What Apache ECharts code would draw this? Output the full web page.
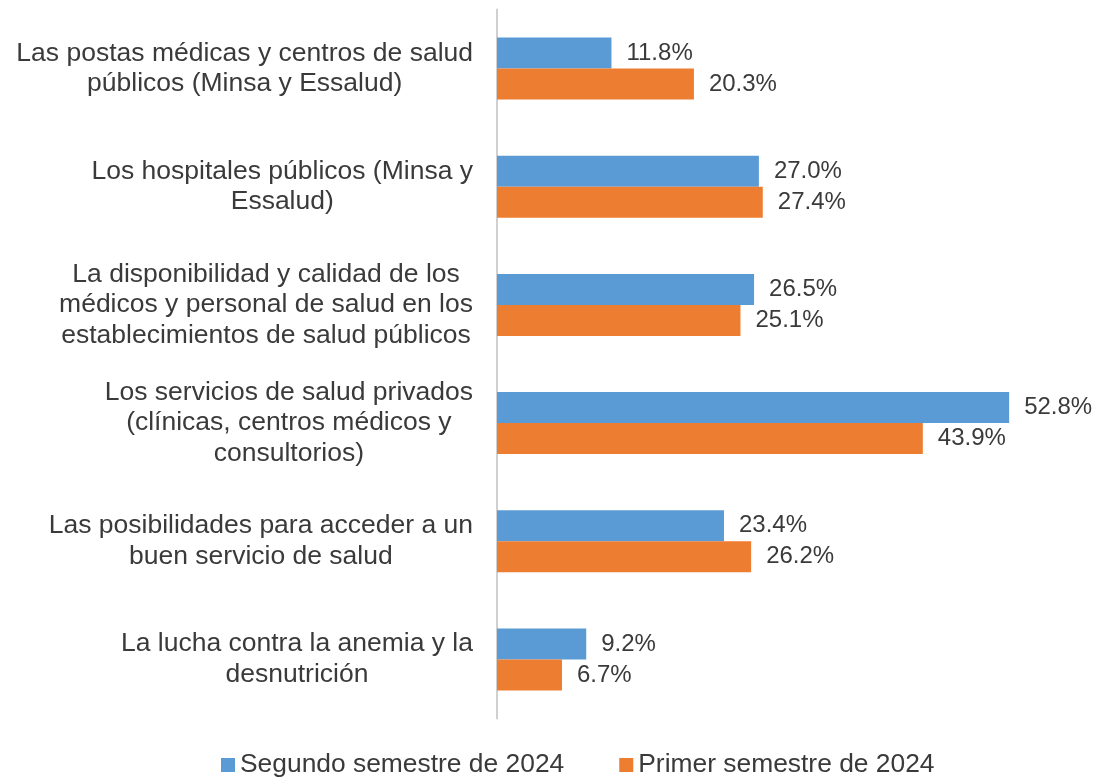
<!DOCTYPE html>
<html>
<head>
<meta charset="utf-8">
<script src="https://cdn.jsdelivr.net/npm/echarts@6/dist/echarts.min.js"></script>
<style>
  html, body { margin: 0; padding: 0; background: #fff; }
  #chart { width: 1097px; height: 777px; }
</style>
</head>
<body>
<div id="chart"></div>
<script>
// categories, top to bottom
var categories = [
  'Las postas médicas y centros de salud\npúblicos (Minsa y Essalud)',
  'Los hospitales públicos (Minsa y\nEssalud)',
  'La disponibilidad y calidad de los\nmédicos y personal de salud en los\nestablecimientos de salud públicos',
  'Los servicios de salud privados\n(clínicas, centros médicos y\nconsultorios)',
  'Las posibilidades para acceder a un\nbuen servicio de salud',
  'La lucha contra la anemia y la\ndesnutrición'
];
var seriesNames = ['Segundo semestre de 2024', 'Primer semestre de 2024'];
var segundo = [11.8, 27.0, 26.5, 52.8, 23.4, 9.2];
var primer = [20.3, 27.4, 25.1, 43.9, 26.2, 6.7];

var textColor = '#3a3a3a';
var font = 'Liberation Sans, Arial, sans-serif';

function barLabel() {
  return {
    show: true,
    position: 'right',
    distance: 15,
    color: textColor,
    fontFamily: font,
    fontSize: 24,
    formatter: function (p) { return p.value.toFixed(1) + '%'; }
  };
}

var myChart = echarts.init(document.getElementById('chart'));
myChart.setOption({
  animation: false,
  grid: { left: 497, right: 18, top: 9.5, bottom: 58.5 },
  legend: {
    left: 216,
    top: 747,
    icon: 'rect',
    itemWidth: 14,
    itemHeight: 14,
    itemGap: 55,
    textStyle: { color: textColor, fontFamily: font, fontSize: 26.4 },
    data: seriesNames
  },
  xAxis: {
    type: 'value',
    min: 0,
    max: 60,
    show: false
  },
  yAxis: {
    type: 'category',
    inverse: true,
    data: categories,
    axisLine: { lineStyle: { color: '#d0d0d0', width: 2 } },
    axisTick: { show: false },
    axisLabel: {
      margin: 24,
      color: textColor,
      fontFamily: font,
      fontSize: 26.5,
      lineHeight: 30.5,
      formatter: function (v) {
        return v.split('\n').map(function (s) { return '{c|' + s + '}'; }).join('\n');
      },
      rich: {
        c: { align: 'center', color: textColor, fontFamily: font, fontSize: 26.5, lineHeight: 30.5 }
      }
    }
  },
  series: [
    {
      name: seriesNames[0],
      type: 'bar',
      data: segundo,
      barWidth: 31,
      barGap: '0%',
      itemStyle: { color: '#5B9BD5' },
      label: barLabel()
    },
    {
      name: seriesNames[1],
      type: 'bar',
      data: primer,
      barWidth: 31,
      itemStyle: { color: '#ED7D31' },
      label: barLabel()
    }
  ]
});
</script>
</body>
</html>
